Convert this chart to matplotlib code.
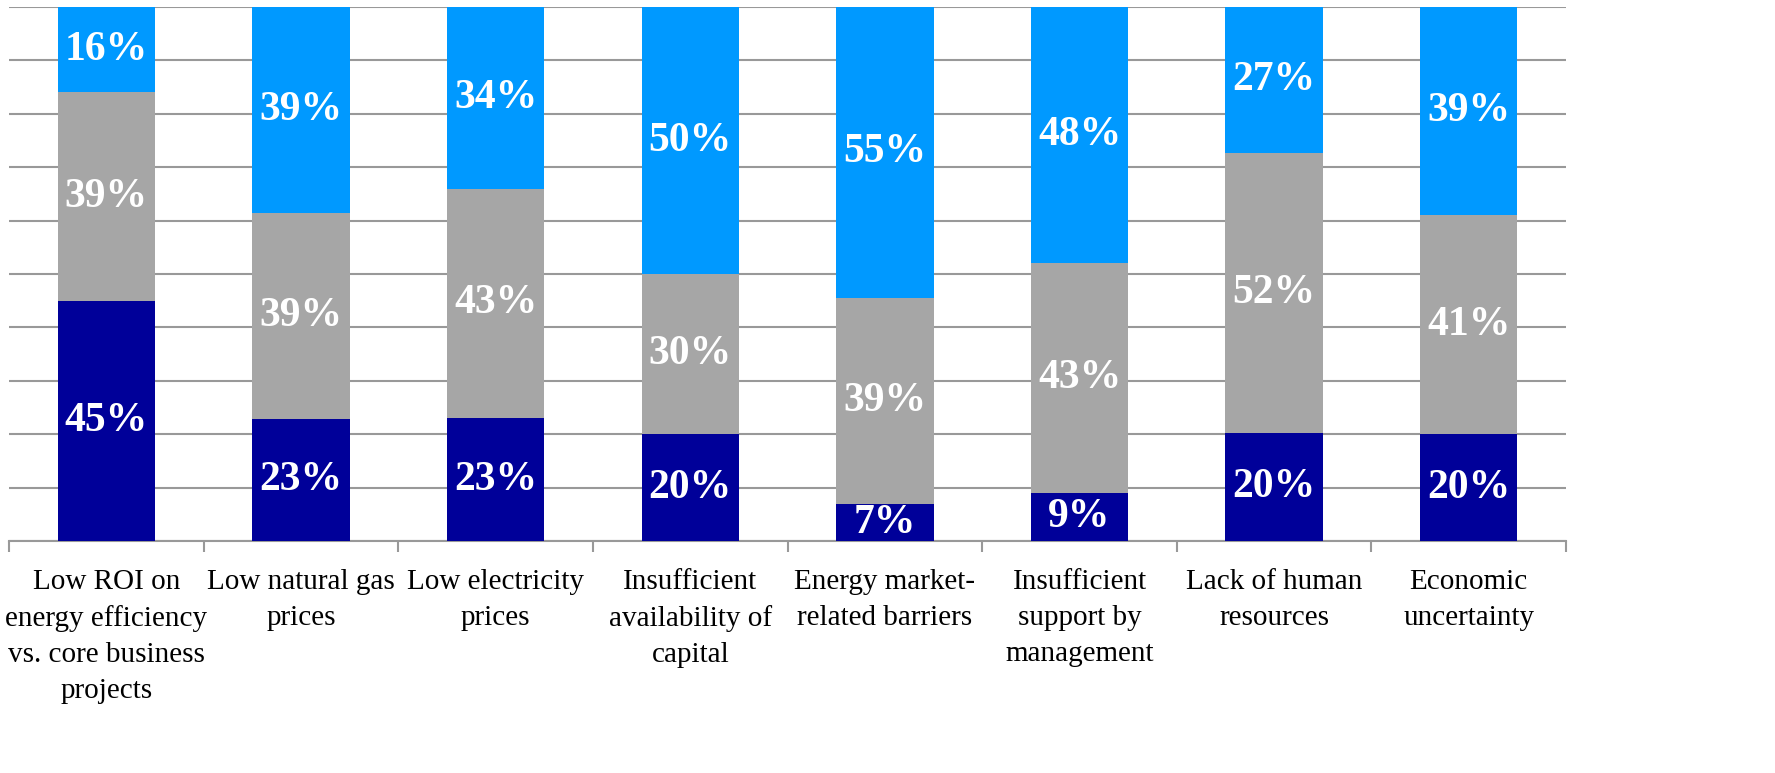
import numpy as np
import matplotlib.pyplot as plt

categories = [
    'Low ROI on\nenergy efficiency\nvs. core business\nprojects',
    'Low natural gas\nprices',
    'Low electricity\nprices',
    'Insufficient\navailability of\ncapital',
    'Energy market-\nrelated barriers',
    'Insufficient\nsupport by\nmanagement',
    'Lack of human\nresources',
    'Economic\nuncertainty',
]
bottom_vals = [45, 23, 23, 20, 7, 9, 20, 20]
middle_vals = [39, 39, 43, 30, 39, 43, 52, 41]
top_vals = [16, 39, 34, 50, 55, 48, 27, 39]

colors = ['#000099', '#A6A6A6', '#0099FF']
series = [bottom_vals, middle_vals, top_vals]

plt.rcParams['font.family'] = ['Liberation Serif', 'DejaVu Serif']

fig = plt.figure(figsize=(17.75, 7.73), dpi=100)
ax = fig.add_axes([0.0051, 0.3001, 0.8772, 0.6908])

data = np.array(series, dtype=float)
totals = data.sum(axis=0)
frac = data / totals

x = np.arange(len(categories))
base = np.zeros(len(categories))
for vals, fr, col in zip(series, frac, colors):
    ax.bar(x, fr, bottom=base, width=0.5, color=col, zorder=3)
    for xi, b, f, v in zip(x, base, fr, vals):
        ax.text(xi, b + f / 2, f'{v}%', ha='center', va='center',
                color='white', fontsize=30, fontweight='bold', zorder=4)
    base += fr

ax.set_xlim(-0.5, len(categories) - 0.5)
ax.set_ylim(0, 1)
ax.set_yticks(np.arange(0, 1.01, 0.1))
ax.yaxis.grid(True, color='#999999', linewidth=1.5, zorder=0)
ax.tick_params(axis='y', left=False, labelleft=False)

ax.set_xticks(np.arange(-0.5, len(categories)), minor=False)
ax.set_xticklabels([])
ax.tick_params(axis='x', which='major', direction='out', length=8,
               width=1.5, color='#999999')
ax.set_xticks(x, minor=True)
ax.set_xticklabels(categories, minor=True, fontsize=21, va='top')
for lbl in ax.get_xticklabels(minor=True):
    lbl.set_linespacing(1.5)
ax.tick_params(axis='x', which='minor', length=0, pad=20)

for side in ['left', 'right', 'top']:
    ax.spines[side].set_visible(False)
ax.spines['bottom'].set_color('#999999')
ax.spines['bottom'].set_linewidth(1.5)

fig.savefig('out.png', dpi=100)
